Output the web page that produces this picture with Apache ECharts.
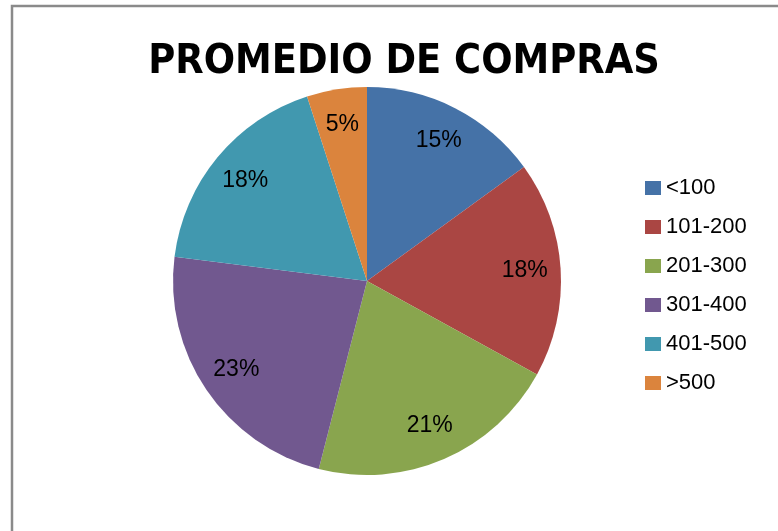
<!DOCTYPE html>
<html>
<head>
<meta charset="utf-8">
<script src="https://cdn.jsdelivr.net/npm/echarts@6/dist/echarts.min.js"></script>
<style>
  html, body { margin: 0; padding: 0; background: #fff; }
  #chart { width: 778px; height: 531px; }
</style>
</head>
<body>
<div id="chart"></div>
<script>
// datos del grafico
const categories = ["<100", "101-200", "201-300", "301-400", "401-500", ">500"];
const shares = [15, 18, 21, 23, 18, 5];
const sliceColors = ["#4572A7", "#AA4643", "#89A54E", "#71588F", "#4198AF", "#DB843D"];

const pieData = categories.map(function (name, i) {
  return { name: name, value: shares[i] };
});

const myChart = echarts.init(document.getElementById("chart"));

myChart.setOption({
  animation: false,
  color: sliceColors,
  title: {
    text: "PROMEDIO DE COMPRAS",
    left: 399,
    top: 37,
    textAlign: "center",
    textStyle: {
      fontFamily: "'DejaVu Sans Condensed', 'DejaVu Sans'",
      fontWeight: "bold",
      fontSize: 41,
      color: "#000"
    }
  },
  legend: {
    orient: "vertical",
    left: 645,
    top: 177,
    padding: 0,
    itemWidth: 16,
    itemHeight: 14,
    itemGap: 17,
    icon: "rect",
    data: categories,
    textStyle: {
      fontFamily: "'Liberation Sans'",
      fontSize: 22,
      color: "#000"
    }
  },
  graphic: [
    {
      type: "rect",
      shape: { x: 12, y: 6, width: 900, height: 700 },
      style: { fill: "none", stroke: "#8a8a8a", lineWidth: 2.5 },
      silent: true,
      z: -1
    }
  ],
  series: [
    {
      type: "pie",
      center: [367, 281],
      radius: [0, 194],
      startAngle: 90,
      clockwise: true,
      label: { show: false },
      labelLine: { show: false },
      itemStyle: { borderWidth: 0 },
      emphasis: { disabled: true },
      data: pieData
    },
    {
      // capa solo para las etiquetas
      type: "pie",
      center: [367, 281],
      radius: [116, 194],
      startAngle: 90,
      clockwise: true,
      silent: true,
      itemStyle: { color: "transparent", borderWidth: 0 },
      label: {
        show: true,
        position: "inside",
        formatter: "{c}%",
        fontFamily: "'Liberation Sans'",
        fontSize: 23,
        color: "#000"
      },
      labelLine: { show: false },
      emphasis: { disabled: true },
      data: pieData
    }
  ]
});
</script>
</body>
</html>
